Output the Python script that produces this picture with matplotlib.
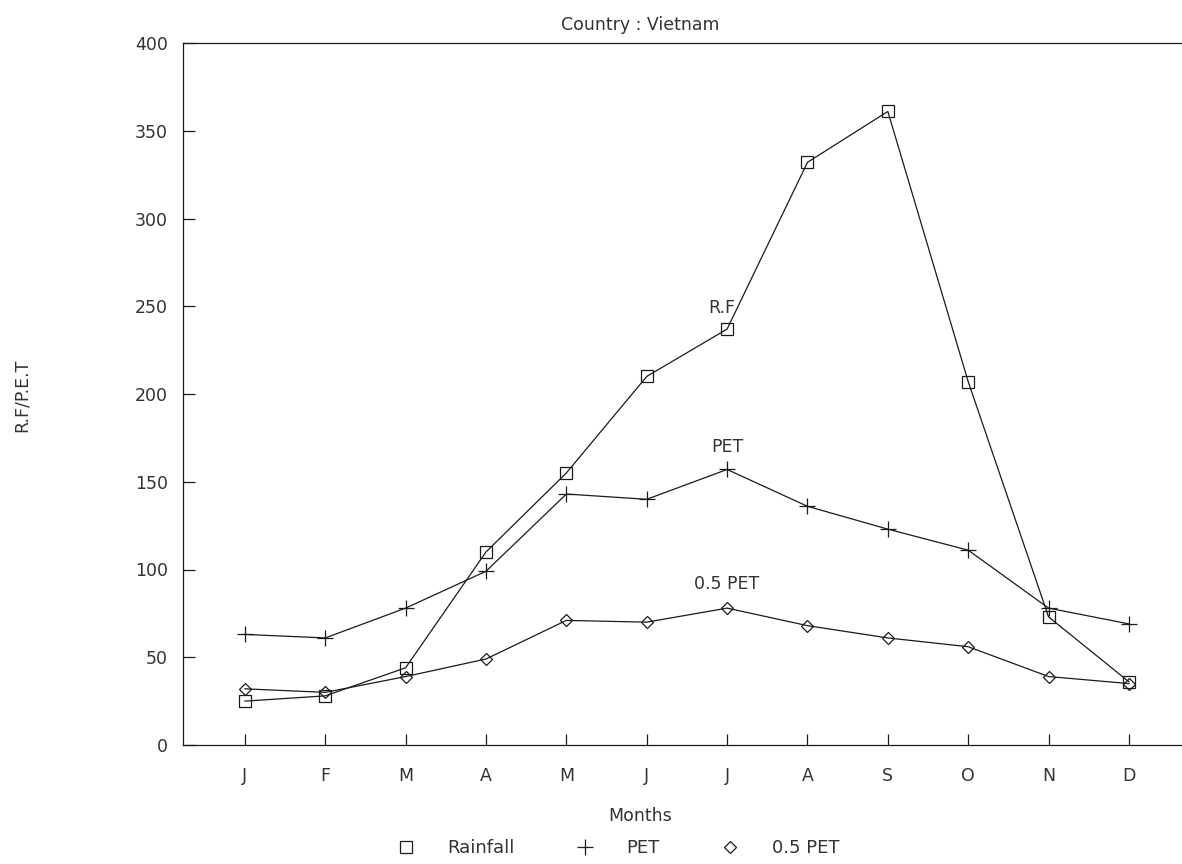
import matplotlib
matplotlib.use('Agg')
import matplotlib.pyplot as plt
from matplotlib.lines import Line2D

plt.rcParams['font.family'] = ['DejaVu Sans']

# data
months = ['J', 'F', 'M', 'A', 'M', 'J', 'J', 'A', 'S', 'O', 'N', 'D']
rainfall = [25, 28, 44, 110, 155, 210, 237, 332, 361, 207, 73, 36]
pet = [63, 61, 78, 99, 143, 140, 157, 136, 123, 111, 78, 69]
half_pet = [32, 30, 39, 49, 71, 70, 78, 68, 61, 56, 39, 35]
yticks = [0, 50, 100, 150, 200, 250, 300, 350, 400]

x = list(range(1, 13))
col = '#1a1a1a'
tcol = '#333333'
fs = 12.5

fig = plt.figure(figsize=(11.82, 8.64), dpi=100)
ax = fig.add_axes([183/1182, 119/864, 1 - 183/1182, 702/864])

ax.plot(x, rainfall, color=col, lw=0.9, marker='s', ms=8.5, mfc='none', mec=col, mew=0.9)
ax.plot(x, pet, color=col, lw=0.9, marker='+', ms=11, mec=col, mew=0.9)
ax.plot(x, half_pet, color=col, lw=0.9, marker='D', ms=6, mfc='none', mec=col, mew=0.9)

# series labels at July
ax.annotate('R.F', (7, rainfall[6]), xytext=(-3.5, 15.5), textcoords='offset points',
            ha='center', va='center', fontsize=fs, color=tcol)
ax.annotate('PET', (7, pet[6]), xytext=(0, 16.5), textcoords='offset points',
            ha='center', va='center', fontsize=fs, color=tcol)
ax.annotate('0.5 PET', (7, half_pet[6]), xytext=(0, 17), textcoords='offset points',
            ha='center', va='center', fontsize=fs, color=tcol)

ax.set_xlim(0.23, 12.66)
ax.set_ylim(0, 400)
ax.set_xticks(x)
ax.set_xticklabels(months)
ax.set_yticks(yticks)
ax.tick_params(axis='x', direction='in', length=8, width=0.9, pad=15.5, labelsize=fs,
               color=col, labelcolor=tcol)
ax.tick_params(axis='y', direction='in', length=8.5, width=0.9, pad=11, labelsize=fs,
               color=col, labelcolor=tcol)
ax.spines['right'].set_visible(False)
for s in ['left', 'bottom', 'top']:
    ax.spines[s].set_linewidth(0.9)
    ax.spines[s].set_color(col)

fig.text(640/1182, 1 - 25/864, 'Country : Vietnam', ha='center', va='center',
         fontsize=fs, color=tcol)
fig.text(640/1182, 1 - 816/864, 'Months', ha='center', va='center', fontsize=fs, color=tcol)
fig.text(22/1182, 1 - 395/864, 'R.F/P.E.T', ha='center', va='center', rotation=90,
         fontsize=fs, color=tcol)

handles = [Line2D([], [], ls='none', marker='s', ms=8, mfc='none', mec=col, mew=0.9),
           Line2D([], [], ls='none', marker='+', ms=11, mec=col, mew=0.9),
           Line2D([], [], ls='none', marker='D', ms=6, mfc='none', mec=col, mew=0.9)]
leg = fig.legend(handles, ['Rainfall', 'PET', '0.5 PET'], loc='center', ncol=3,
                 bbox_to_anchor=(618/1182, 1 - 848/864), frameon=False, fontsize=13,
                 handlelength=1, handletextpad=1.8, columnspacing=3.4)
for t in leg.get_texts():
    t.set_color(tcol)

fig.savefig('out.png', dpi=100)
